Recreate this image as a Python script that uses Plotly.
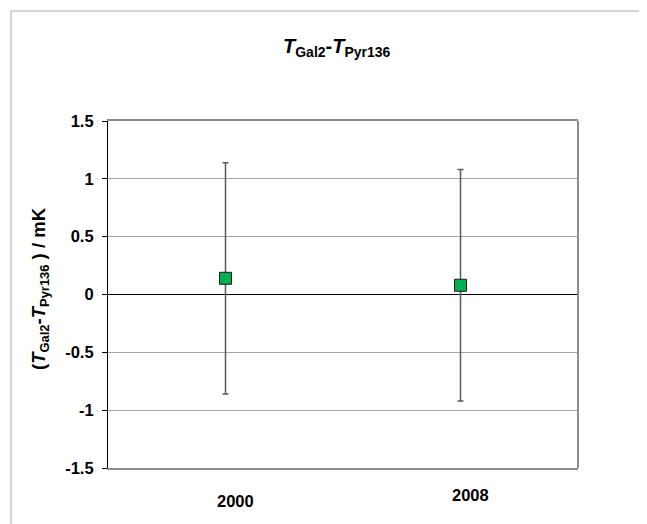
import plotly.graph_objects as go

# Data
categories = ["2000", "2008"]
x_pos = [1, 2]
values = [0.14, 0.08]
errors = [1.0, 1.0]
y_ticks = [-1.5, -1, -0.5, 0, 0.5, 1, 1.5]
y_tick_labels = ["-1.5", "-1", "-0.5", "0", "0.5", "1", "1.5"]

# page body margin offset (screen = figure + OFF)
OFF = 8
W, H = 647, 524
# desired screen plot box: x 108..578, y 121..468
L, T = 108 - OFF, 121 - OFF
pw, ph = 470, 347
R = W - L - pw
B = H - T - ph

def sx(p):
    return (p - OFF - L) / pw

def sy(p):
    return (T + ph - (p - OFF)) / ph

FONT = "Liberation Sans, Arial, sans-serif"

fig = go.Figure()
fig.add_trace(go.Scatter(
    x=x_pos, y=values, mode="markers",
    marker=dict(symbol="square", size=12, color="#00B050",
                line=dict(color="#1a1a1a", width=1)),
    error_y=dict(type="data", array=errors, visible=True,
                 color="#5a5a5a", thickness=1.5, width=3),
    showlegend=False, hoverinfo="x+y",
))

label_font = dict(family=FONT, size=16.5, color="black")
label_yshift = [-33, -27]
for xv, lab, ys in zip(x_pos, categories, label_yshift):
    fig.add_annotation(x=xv, y=-1.5, xref="x", yref="y", text="<b>%s</b>" % lab,
                       showarrow=False, xshift=10, yshift=ys, font=label_font)

# Title
fig.add_annotation(
    x=sx(337), y=sy(47), xref="paper", yref="paper", showarrow=False,
    xanchor="center", yanchor="middle",
    text="<b><i>T</i><sub>Gal2</sub>-<i>T</i><sub>Pyr136</sub></b>",
    font=dict(family=FONT, size=20, color="black"),
)
# Y axis title
fig.add_annotation(
    x=sx(40), y=sy(289), xref="paper", yref="paper", showarrow=False, textangle=-90,
    xanchor="center", yanchor="middle",
    text="<b>(<i>T</i><sub>Gal2</sub>-<i>T</i><sub>Pyr136</sub> ) / mK</b>",
    font=dict(family=FONT, size=18.5, color="black"),
)

# Outer chart border
fig.add_shape(type="rect", xref="paper", yref="paper",
              x0=sx(11), y0=sy(570), x1=sx(720), y1=sy(11),
              line=dict(color="#d4d4d4", width=2), layer="below")
# Right plot border
fig.add_shape(type="line", xref="paper", yref="paper", x0=1, x1=1, y0=0, y1=1,
              line=dict(color="#8c8c8c", width=2))

fig.update_layout(
    width=W, height=H, autosize=False,
    margin=dict(l=L, r=R, t=T, b=B),
    paper_bgcolor="white", plot_bgcolor="white",
    xaxis=dict(range=[0.5, 2.5], showticklabels=False, ticks="",
               showgrid=False, zeroline=False, showline=True,
               linecolor="#8c8c8c", linewidth=2, mirror=True, fixedrange=True),
    yaxis=dict(range=[-1.5, 1.5], tickvals=y_ticks, ticktext=y_tick_labels,
               ticks="outside", ticklen=5, tickcolor="black", tickwidth=1,
               showgrid=True, gridcolor="#a6a6a6", gridwidth=1,
               zeroline=True, zerolinecolor="black", zerolinewidth=1.2,
               showline=True, linecolor="black", linewidth=1.2,
               tickfont=dict(family=FONT, size=16.5, color="black", weight="bold"),
               ticklabelstandoff=5, fixedrange=True),
)

fig.write_html("out.html")
